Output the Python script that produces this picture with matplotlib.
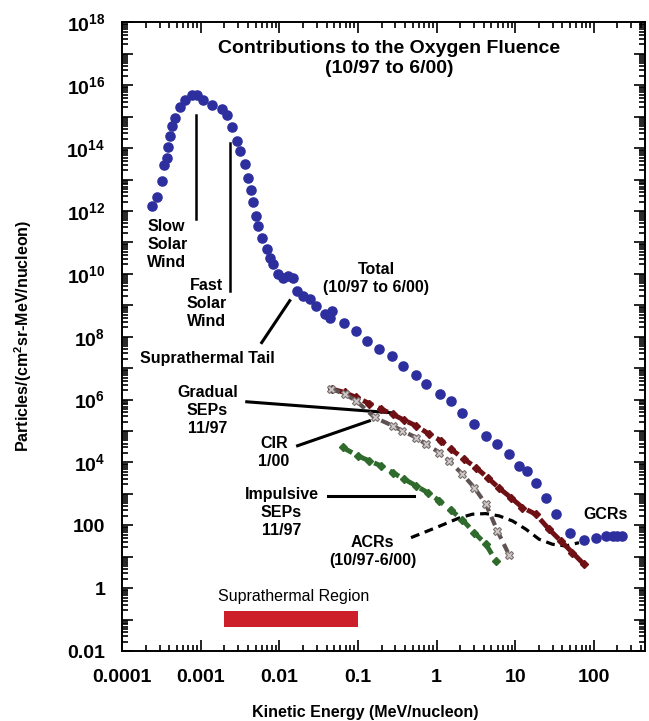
import numpy as np
import matplotlib
matplotlib.use("Agg")
import matplotlib.pyplot as plt
from matplotlib.ticker import FixedLocator, LogLocator, NullFormatter

# =====================================================
# DATA (MeV/nucleon vs fluence)
# =====================================================

total_E = [2.40e-4, 2.78e-4, 3.24e-4, 3.39e-4, 3.72e-4, 3.80e-4, 4.07e-4, 4.27e-4,
           4.68e-4, 5.50e-4, 6.31e-4, 7.76e-4, 8.91e-4, 1.07e-3, 1.41e-3, 1.86e-3,
           2.14e-3, 2.51e-3, 2.88e-3, 3.16e-3, 3.63e-3, 3.98e-3, 4.37e-3, 4.57e-3,
           5.13e-3, 5.37e-3, 6.03e-3, 6.92e-3, 7.59e-3, 8.32e-3, 9.55e-3, 1.10e-2,
           1.29e-2, 1.48e-2, 1.66e-2, 2.00e-2, 2.45e-2, 2.95e-2, 3.80e-2, 4.37e-2,
           4.68e-2, 6.61e-2, 9.55e-2, 0.132, 0.186, 0.269, 0.372, 0.550, 0.741,
           1.10, 1.55, 2.14, 3.02, 4.27, 5.89, 8.32, 11.2, 14.1, 18.6, 24.5, 33.1,
           50.1, 75.9, 107, 145, 174, 200, 229]
total_F = [1.48e12, 2.69e12, 9.3e12, 2.82e13, 5.0e13, 1.05e14, 2.5e14, 5.2e14,
           9.3e14, 2.0e15, 3.3e15, 4.8e15, 4.8e15, 3.3e15, 2.3e15, 1.8e15,
           1.1e15, 4.6e14, 1.7e14, 8.3e13, 3.2e13, 1.15e13, 4.5e12, 1.9e12,
           7.1e11, 3.4e11, 1.4e11, 6.3e10, 3.3e10, 2.1e10, 1.0e10, 7.6e9,
           8.7e9, 7.6e9, 2.9e9, 2.0e9, 1.6e9, 9.8e8, 5.4e8, 4.0e8,
           6.8e8, 2.8e8, 1.55e8, 7.4e7, 4.2e7, 2.45e7, 1.2e7, 6.2e6, 3.2e6,
           1.5e6, 9.1e5, 3.8e5, 1.7e5, 7.1e4, 4.0e4, 1.9e4, 7.8e3, 5.4e3, 2.2e3, 740, 229,
           57.5, 33.9, 39.8, 45.7, 46.8, 46.8, 46.8]

gradual_E = [0.0471, 0.0676, 0.0951, 0.140, 0.197, 0.277, 0.390, 0.548, 0.811, 1.14,
             1.53, 2.25, 3.17, 4.46, 6.27, 8.81, 12.4, 18.3, 27.0, 38.0, 53.5, 75.2]
gradual_F = [2.15e6, 1.69e6, 1.17e6, 7.5e5, 5.0e5, 3.4e5, 2.2e5, 1.47e5, 7.9e4, 4.9e4,
             2.65e4, 1.27e4, 6.9e3, 3.3e3, 1.52e3, 766, 367, 225, 75, 32, 13.6, 5.75]

cir_E = [0.0458, 0.0676, 0.0951, 0.163, 0.277, 0.368, 0.550, 0.736, 1.09, 1.45,
         2.14, 3.02, 4.25, 5.96, 8.39]
cir_F = [2.21e6, 1.50e6, 9.2e5, 2.7e5, 1.47e5, 1.01e5, 6.2e4, 3.8e4, 2.07e4, 1.12e4,
         4.2e3, 1.59e3, 470, 66, 11.4]

impulsive_E = [0.0643, 0.0998, 0.140, 0.197, 0.277, 0.390, 0.550, 0.771, 1.09, 1.53,
               2.14, 3.02, 4.25, 5.69]
impulsive_F = [2.99e4, 1.62e4, 1.12e4, 7.8e3, 4.76e3, 2.94e3, 1.80e3, 1.10e3, 598, 303,
               149, 58.6, 25.0, 7.3]

acr_E = [0.474, 0.986, 1.95, 2.87, 4.25, 6.27, 9.25, 13.7, 20.2, 29.8, 44.0, 64.9]
acr_F = [40.6, 84.5, 172, 226, 236, 199, 138, 75.2, 36, 25, 22, 28.1]

supra_region = [0.002, 0.1]

x_ticks = [1e-4, 1e-3, 1e-2, 1e-1, 1, 10, 100]
x_labels = ["0.0001", "0.001", "0.01", "0.1", "1", "10", "100"]
y_ticks = [10.0 ** k for k in range(-2, 19)]
y_labels = {18: "$10^{18}$", 16: "$10^{16}$", 14: "$10^{14}$", 12: "$10^{12}$",
            10: "$10^{10}$", 8: "$10^{8}$", 6: "$10^{6}$", 4: "$10^{4}$",
            2: "100", 0: "1", -2: "0.01"}

# =====================================================
# STYLE
# =====================================================

plt.rcParams["font.family"] = ["Liberation Sans", "DejaVu Sans"]
plt.rcParams["font.weight"] = "bold"
plt.rcParams["mathtext.fontset"] = "custom"
plt.rcParams["mathtext.rm"] = "Liberation Sans:bold"
plt.rcParams["mathtext.it"] = "Liberation Sans:bold:italic"
plt.rcParams["mathtext.bf"] = "Liberation Sans:bold"

blue = "#2e2f9e"
dark_red = "#6e1014"
green = "#2f6b2c"
cir_col = "#5e5252"

fig = plt.figure(figsize=(6.49, 7.21), dpi=100)
ax = fig.add_axes([0.188, 0.097, 0.806, 0.872])

ax.set_xscale("log")
ax.set_yscale("log")
ax.set_xlim(1e-4, 450)
ax.set_ylim(1e-2, 1e18)

# =====================================================
# SERIES
# =====================================================

ax.plot(total_E, total_F, "o", color=blue, ms=6.6, mec=blue, zorder=5)

ax.plot(gradual_E, gradual_F, color=dark_red, lw=3.5, ls=(0, (2.2, 1.2)),
        marker="D", ms=4, mec=dark_red, zorder=4)

ax.plot(cir_E, cir_F, color=cir_col, lw=3.0, ls=(0, (2.2, 1.4)), zorder=4)
ax.plot(cir_E, cir_F, "X", color="#cfc8c8", mec="#7a7070", mew=0.8, ms=5.5, ls="none", zorder=4)

ax.plot(impulsive_E, impulsive_F, color=green, lw=3.5, ls=(0, (2.2, 1.4)),
        marker="D", ms=4, mec=green, zorder=4)

ax.plot(acr_E, acr_F, color="black", lw=2.3, ls=(0, (2.8, 1.8)), zorder=3)

ax.fill_between(supra_region, 0.058, 0.19, color="#cc1f2a", lw=0, zorder=2)

# =====================================================
# ANNOTATIONS
# =====================================================

ax.text(0.51, 0.972, "Contributions to the Oxygen Fluence\n(10/97 to 6/00)",
        transform=ax.transAxes, ha="center", va="top", fontsize=14, linespacing=1.2)

fs = 11.5
ls_ = 1.25
ax.text(2.1e-4, 5.4e11, "Slow\nSolar\nWind", ha="left", va="top", fontsize=fs, linespacing=ls_)
ax.plot([8.7e-4, 8.7e-4], [1.1e15, 5.7e11], color="black", lw=1.8)

ax.text(1.2e-3, 7.6e9, "Fast\nSolar\nWind", ha="center", va="top", fontsize=fs, linespacing=ls_)
ax.plot([2.35e-3, 2.35e-3], [1.5e14, 2.9e9], color="black", lw=1.8)

ax.text(1.22e-3, 2e7, "Suprathermal Tail", ha="center", va="center", fontsize=fs)
ax.plot([5.98e-3, 1.36e-2], [6.5e7, 1.4e9], color="black", lw=2.2)

ax.text(0.172, 2.3e10, "Total\n(10/97 to 6/00)", ha="center", va="top", fontsize=fs, linespacing=ls_)

ax.text(1.22e-3, 2.9e6, "Gradual\nSEPs\n11/97", ha="center", va="top", fontsize=fs, linespacing=ls_)
ax.plot([3.86e-3, 0.267], [8.5e5, 3.8e5], color="black", lw=2.2)

ax.text(8.5e-3, 7.1e4, "CIR\n1/00", ha="center", va="top", fontsize=fs, linespacing=ls_)
ax.plot([0.0171, 0.140], [3.4e4, 2.1e5], color="black", lw=2.2)

ax.text(0.0107, 1.66e3, "Impulsive\nSEPs\n11/97", ha="center", va="top", fontsize=fs, linespacing=ls_)
ax.plot([0.0411, 0.522], [870, 870], color="black", lw=2.2)

ax.text(0.153, 49, "ACRs\n(10/97-6/00)", ha="center", va="top", fontsize=fs, linespacing=ls_)

ax.text(143, 214, "GCRs", ha="center", va="center", fontsize=fs)

ax.text(1.66e-3, 0.56, "Suprathermal Region", ha="left", va="center",
        fontsize=11.5, fontweight="normal")

# =====================================================
# AXES / TICKS
# =====================================================

ax.xaxis.set_major_locator(FixedLocator(x_ticks))
ax.set_xticklabels(x_labels)
ax.xaxis.set_minor_locator(LogLocator(base=10, subs=np.arange(2, 10), numticks=50))
ax.xaxis.set_minor_formatter(NullFormatter())

ax.yaxis.set_major_locator(FixedLocator(y_ticks))
ax.set_yticklabels([y_labels.get(k, "") for k in range(-2, 19)])
ax.yaxis.set_minor_locator(LogLocator(base=10, subs=np.arange(2, 10), numticks=50))
ax.yaxis.set_minor_formatter(NullFormatter())

ax.tick_params(which="both", direction="in", top=True, right=True, width=1.2)
ax.tick_params(which="major", length=8)
ax.tick_params(which="minor", length=4)
ax.tick_params(axis="x", which="major", labelsize=14, pad=13)
ax.tick_params(axis="y", which="major", labelsize=14, pad=12)
for s in ax.spines.values():
    s.set_linewidth(1.4)

fig.text(365 / 649, 1 - 712 / 721, "Kinetic Energy (MeV/nucleon)",
         ha="center", va="center", fontsize=11.5)
fig.text(23 / 649, 1 - 336 / 721, "Particles/(cm$^2$sr-MeV/nucleon)",
         ha="center", va="center", rotation=90, fontsize=11.5)

fig.savefig("out.png", dpi=100)
